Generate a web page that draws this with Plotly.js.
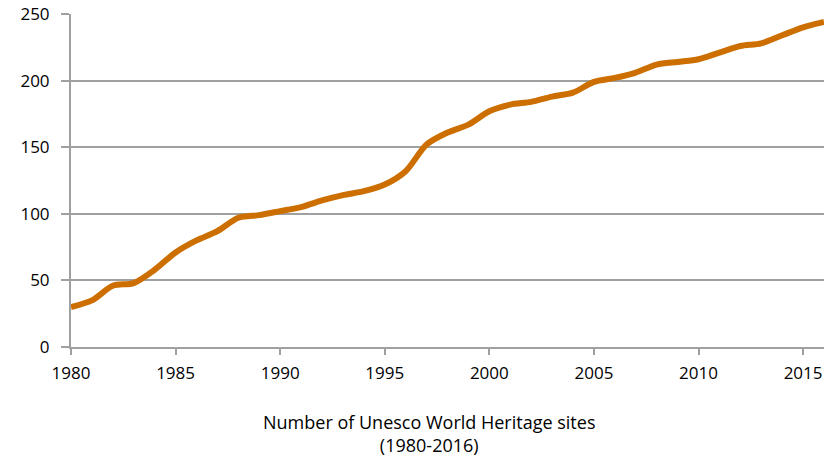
<!DOCTYPE html>
<html>
<head>
<meta charset="utf-8">
<script src="https://cdn.plot.ly/plotly-3.0.1.min.js"></script>
<style>html,body{margin:0;padding:0;background:#fff;}#chart{width:824px;height:458px;}</style>
</head>
<body>
<div id="chart"></div>
<script>
const years = [1980,1981,1982,1983,1984,1985,1986,1987,1988,1989,1990,1991,1992,1993,1994,1995,1996,1997,1998,1999,2000,2001,2002,2003,2004,2005,2006,2007,2008,2009,2010,2011,2012,2013,2014,2015,2016];
const sites = [30,35,46,48,58,71,80,87,97,99,102,105,110,114,117,122,132,152,161,167,177,182,184,188,191,199,202,206,212,214,216,221,226,228,234,240,244];
const xTicks = [1980,1985,1990,1995,2000,2005,2010,2015];
const yTicks = [0,50,100,150,200,250];
const titleText = "Number of Unesco World Heritage sites<br>(1980-2016)";

const fontFam = "'Open Sans', sans-serif";
const grey = "#A0A0A0";

Plotly.newPlot("chart", [{
  x: years, y: sites, type: "scatter", mode: "lines",
  line: {color: "#CC6E00", width: 6, shape: "spline", smoothing: 0.8},
  hoverinfo: "skip"
}], {
  width: 824, height: 458,
  margin: {l: 71, r: 0, t: 14, b: 111},
  paper_bgcolor: "#fff", plot_bgcolor: "#fff",
  showlegend: false,
  font: {family: fontFam, size: 17, color: "#000"},
  xaxis: {
    range: [1980, 2016], tickvals: xTicks, ticktext: xTicks.map(String),
    showgrid: false, zeroline: false, showline: true, linecolor: grey, linewidth: 2,
    ticks: "outside", ticklen: 6, tickwidth: 2, tickcolor: grey,
    ticklabelstandoff: 4,
    tickfont: {family: fontFam, size: 17, color: "#000"}
  },
  yaxis: {
    range: [0, 250], tickvals: yTicks, ticktext: yTicks.map(String),
    showgrid: true, gridcolor: grey, gridwidth: 2, zeroline: false,
    showline: true, linecolor: grey, linewidth: 2,
    ticks: "outside", ticklen: 8, tickwidth: 2, tickcolor: grey,
    ticklabelstandoff: 8,
    tickfont: {family: fontFam, size: 17, color: "#000"}
  },
  annotations: [{
    text: titleText, xref: "paper", yref: "paper", x: 0.4754, y: -0.261,
    xanchor: "center", yanchor: "middle", showarrow: false,
    font: {family: fontFam, size: 18, color: "#000"}
  }]
}, {displayModeBar: false, staticPlot: true});
</script>
</body>
</html>
